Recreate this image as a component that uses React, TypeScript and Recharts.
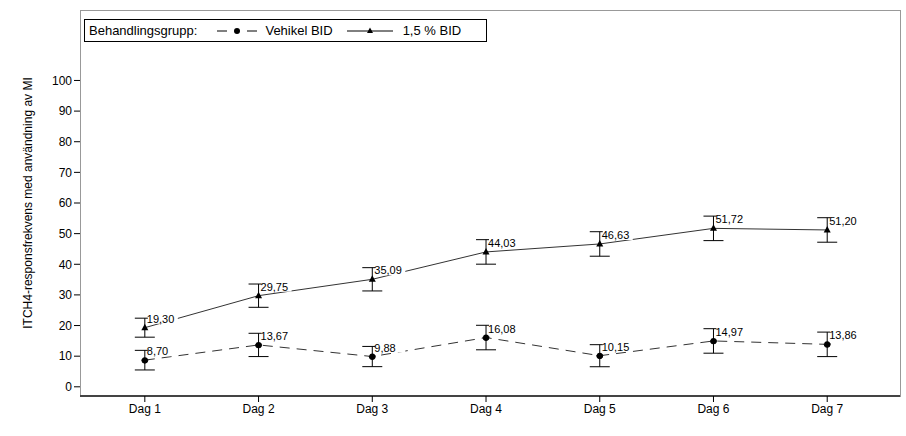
import { LineChart, Line, XAxis, YAxis, ErrorBar, LabelList } from 'recharts';

const days = [1, 2, 3, 4, 5, 6, 7];
const dayLabels = ['Dag 1', 'Dag 2', 'Dag 3', 'Dag 4', 'Dag 5', 'Dag 6', 'Dag 7'];
const vehikel = [8.7, 13.67, 9.88, 16.08, 10.15, 14.97, 13.86];
const vehikelErr = [3.2, 3.8, 3.3, 4.0, 3.6, 4.0, 4.0];
const active = [19.3, 29.75, 35.09, 44.03, 46.63, 51.72, 51.2];
const activeErr = [3.1, 3.8, 3.8, 4.0, 4.0, 4.0, 4.0];
const yTicks = [0, 10, 20, 30, 40, 50, 60, 70, 80, 90, 100];

const data = days.map((d, i) => ({
  day: d,
  vehikel: vehikel[i],
  vehikelErr: vehikelErr[i],
  active: active[i],
  activeErr: activeErr[i],
}));

const font = 'Liberation Sans, Arial, sans-serif';
const fmt = (v: number) => v.toFixed(2).replace('.', ',');

function ValueLabel(props: any) {
  const { x, y, value } = props;
  return (
    <g>
      <rect x={x + 3} y={y - 15} width={30} height={11} fill="#fff" />
      <text x={x + 2} y={y - 5} fontSize={11} fontFamily={font} fill="#000">
        {fmt(value)}
      </text>
    </g>
  );
}

function Triangle(props: any) {
  const { cx, cy } = props;
  return <path d={`M${cx},${cy - 4} L${cx + 3.5},${cy + 2.5} L${cx - 3.5},${cy + 2.5} Z`} fill="#000" />;
}

export default function App() {
  return (
    <div style={{ position: 'absolute', left: 0, top: 0, width: 906, height: 436, background: '#fff', fontFamily: font }}>
      <div style={{ position: 'absolute', left: 80, top: 10, width: 819, height: 386, border: '1px solid #999', borderBottom: 'none' }} />
      <LineChart width={906} height={436} data={data} margin={{ top: 10, right: 6, bottom: 10, left: 30 }}>
        <XAxis
          dataKey="day"
          type="number"
          domain={[0.43, 7.64]}
          ticks={days}
          tickFormatter={(v: number) => dayLabels[v - 1]}
          height={30}
          axisLine={{ stroke: '#444', strokeWidth: 2 }}
          tickLine={{ stroke: '#000' }}
          tick={{ fontSize: 12, fill: '#000', fontFamily: font }}
          tickSize={6}
        />
        <YAxis
          type="number"
          domain={[-3, 123]}
          ticks={yTicks}
          width={50}
          axisLine={false}
          tickLine={{ stroke: '#000' }}
          tickSize={6}
          tick={{ fontSize: 12, fill: '#000', fontFamily: font }}
          label={{ value: 'ITCH4-responsfrekvens med användning av MI', angle: -90, position: 'insideLeft', offset: -2, style: { textAnchor: 'middle', fontSize: 12, fill: '#000', fontFamily: font } }}
        />
        <Line dataKey="vehikel" stroke="#333" strokeWidth={1} strokeDasharray="10 7" isAnimationActive={false}
          dot={{ r: 3, fill: '#000', stroke: '#000' }}>
          <ErrorBar dataKey="vehikelErr" direction="y" width={10} stroke="#000" strokeWidth={1} />
          <LabelList dataKey="vehikel" content={ValueLabel} />
        </Line>
        <Line dataKey="active" stroke="#333" strokeWidth={1} isAnimationActive={false} dot={<Triangle />}>
          <ErrorBar dataKey="activeErr" direction="y" width={10} stroke="#000" strokeWidth={1} />
          <LabelList dataKey="active" content={ValueLabel} />
        </Line>
      </LineChart>
      <div style={{ position: 'absolute', left: 84, top: 19, width: 403, height: 23, border: '1px solid #000', fontSize: 13, display: 'flex', alignItems: 'center', boxSizing: 'border-box' }}>
        <span style={{ marginLeft: 4 }}>Behandlingsgrupp:</span>
        <svg width={50} height={12} style={{ marginLeft: 18 }}>
          <line x1={2} y1={6} x2={12} y2={6} stroke="#000" />
          <circle cx={22} cy={6} r={3} fill="#000" />
          <line x1={32} y1={6} x2={42} y2={6} stroke="#000" />
        </svg>
        <span style={{ marginLeft: 0 }}>Vehikel BID</span>
        <svg width={50} height={12} style={{ marginLeft: 14 }}>
          <line x1={0} y1={6} x2={46} y2={6} stroke="#000" />
          <path d="M23,2.5 L26,8 L20,8 Z" fill="#000" />
        </svg>
        <span style={{ marginLeft: 6 }}>1,5 % BID</span>
      </div>
    </div>
  );
}
